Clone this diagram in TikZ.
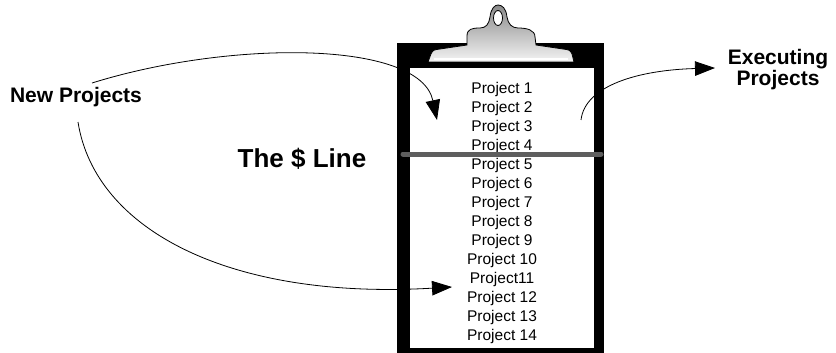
\documentclass[tikz,border=0pt]{standalone}
\usepackage{fontspec}
\setmainfont{Liberation Sans}
\usetikzlibrary{arrows.meta}
\definecolor{dollarbar}{HTML}{5E5E5E}
\definecolor{clipdark}{HTML}{8A8A8A}
\definecolor{cliplight}{HTML}{F4F4F4}

\begin{document}
\begin{tikzpicture}[x=1pt,y=-1pt,
heading/.style={font=\fontsize{21}{21}\selectfont\bfseries,align=center,inner sep=0pt},
item/.style={font=\fontsize{15.5}{19}\selectfont,inner sep=0pt},
arrow/.style={-{Triangle[length=20pt,width=14.5pt]},line width=.8pt}]
\useasboundingbox (0,0) rectangle (836,353);

% clipboard board
\fill[black] (397,43) rectangle (604,356);
\fill[white] (410,68) rectangle (594,348);

% metal clip on top
\draw[line width=.8pt,top color=clipdark,bottom color=cliplight]
 (428,62) -- (431,54) .. controls (433,50) .. (440,49) -- (467,45) -- (467,36)
 .. controls (467,29) and (472,28) .. (480,28) .. controls (486,28) and (489,24) .. (490,17)
 .. controls (491,8) and (495,5) .. (498,5) .. controls (502,5) and (506,8) .. (507,17)
 .. controls (508,24) and (512,28) .. (518,28) .. controls (527,28) and (535,30) .. (535,37)
 -- (536,45) -- (563,49) .. controls (570,50) .. (572,54) -- (574,62) -- cycle;
\draw[white,line width=1.2pt] (434,59) -- (568,59);
\draw[fill=white,line width=.8pt] (498,18) ellipse [x radius=4.5,y radius=7.5];

% project list
\foreach \t [count=\i] in {Project 1,Project 2,Project 3,Project 4,Project 5,Project 6,Project 7,Project 8,Project 9,Project 10,Project11,Project 12,Project 13,Project 14}
 \node[item] (p\i) at (502,{89+19*(\i-1)}) {\t};

% the cut-off line
\draw[dollarbar,line width=5pt,line cap=round] (403,154) -- (601,154);
\node[heading,font=\fontsize{26}{26}\selectfont\bfseries] (dollar) at (302,159) {The \$ Line};

\node[heading] (new) at (76,97) {New Projects};
\node[heading] (exec) at (778,70) {Executing\\Projects};

\coordinate (newtop) at (92,83);
\coordinate (newlow) at (78,122);
\coordinate (topin) at (437,120);
\coordinate (lowin) at (452,287);
\coordinate (outstart) at (581,120);
\coordinate (outend) at (715,68);

\draw[arrow] (newtop) .. controls (230,40) and (420,40) .. (topin);
\draw[arrow] (newlow) .. controls (95,230) and (230,300) .. (lowin);
\draw[arrow] (outstart) .. controls (585,85) and (640,70) .. (outend);
\end{tikzpicture}
\end{document}
